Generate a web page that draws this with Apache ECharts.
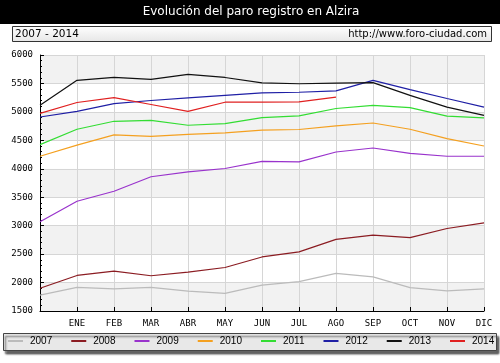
<!DOCTYPE html>
<html><head><meta charset="utf-8">
<script src="https://cdn.jsdelivr.net/npm/echarts@6/dist/echarts.min.js"></script>
<style>html,body{margin:0;padding:0;background:#fff}#c{width:500px;height:363px}</style>
</head><body><div id="c"></div>
<script>
const categories = ['', 'ENE', 'FEB', 'MAR', 'ABR', 'MAY', 'JUN', 'JUL', 'AGO', 'SEP', 'OCT', 'NOV', 'DIC'];
const years = ['2007', '2008', '2009', '2010', '2011', '2012', '2013', '2014'];
const y2007 = [1780, 1915, 1890, 1915, 1850, 1810, 1955, 2015, 2160, 2100, 1910, 1855, 1890];
const y2008 = [1900, 2125, 2200, 2120, 2185, 2265, 2450, 2540, 2760, 2835, 2790, 2950, 3050];
const y2009 = [3070, 3430, 3605, 3860, 3945, 4005, 4130, 4120, 4295, 4365, 4270, 4220, 4220];
const y2010 = [4220, 4415, 4595, 4570, 4605, 4630, 4680, 4690, 4755, 4805, 4695, 4530, 4400];
const y2011 = [4425, 4695, 4835, 4850, 4765, 4795, 4900, 4930, 5060, 5115, 5075, 4925, 4895];
const y2012 = [4910, 5010, 5145, 5200, 5245, 5290, 5335, 5345, 5370, 5555, 5390, 5235, 5085];
const y2013 = [5115, 5555, 5605, 5570, 5660, 5605, 5510, 5495, 5505, 5515, 5290, 5085, 4940];
const y2014 = [4975, 5165, 5250, 5130, 5010, 5170, 5170, 5175, 5260];
const yTicks = [1500, 2000, 2500, 3000, 3500, 4000, 4500, 5000, 5500, 6000];
const titleText = 'Evolución del paro registro en Alzira';
const periodText = '2007 - 2014';
const urlText = 'http://www.foro-ciudad.com';

const seriesData = [y2007, y2008, y2009, y2010, y2011, y2012, y2013, y2014];
const colors = ['#bbbbbb', '#8b1c22', '#9933cc', '#f4a020', '#33dd33', '#1f1fa5', '#111111', '#e02020'];

const chart = echarts.init(document.getElementById('c'), null, {renderer: 'canvas'});
chart.setOption({
  animation: false,
  color: colors,
  graphic: [
    {type: 'rect', shape: {x: 0, y: 0, width: 500, height: 24}, style: {fill: '#000'}, z: 0},
    {type: 'text', x: 251, y: 12, style: {text: titleText, fill: '#fff', font: '12px "DejaVu Sans"', textAlign: 'center', textVerticalAlign: 'middle'}, z: 1},
    {type: 'rect', shape: {x: 12.5, y: 26.5, width: 479, height: 15},
      style: {fill: new echarts.graphic.LinearGradient(0, 0, 0, 1, [{offset: 0, color: '#ffffff'}, {offset: 1, color: '#e6e6e6'}]), stroke: '#333', lineWidth: 1}, z: 0},
    {type: 'text', x: 15, y: 34, style: {text: periodText, fill: '#000', font: '10.5px "DejaVu Sans"', textVerticalAlign: 'middle'}, z: 1},
    {type: 'text', x: 487, y: 34, style: {text: urlText, fill: '#000', font: '10px "DejaVu Sans"', textAlign: 'right', textVerticalAlign: 'middle'}, z: 1},
    {type: 'rect', shape: {x: 3.5, y: 333.5, width: 493, height: 17},
      style: {fill: '#e8e8e8', stroke: '#444', lineWidth: 1, shadowBlur: 2, shadowOffsetX: 2, shadowOffsetY: 3, shadowColor: 'rgba(0,0,0,0.6)'}, z: 0}
  ],
  legend: {
    left: 8, right: 0, top: 336, padding: 0, itemWidth: 15, itemHeight: 2, itemGap: 19,
    icon: 'rect',
    textStyle: {fontFamily: 'Liberation Sans', fontSize: 10, color: '#000', padding: [0, 0, 0, 2]},
    data: years, z: 5
  },
  grid: {left: 40, right: 16, top: 55, bottom: 52},
  xAxis: {
    type: 'category', data: categories, boundaryGap: false,
    axisLine: {lineStyle: {color: '#000', width: 1}},
    axisTick: {inside: true, length: 4, lineStyle: {color: '#000'}, alignWithLabel: true},
    axisLabel: {interval: 0, fontFamily: 'DejaVu Sans Mono', fontSize: 9, color: '#000', margin: 8},
    splitLine: {show: true, lineStyle: {color: '#d6d6d6'}}
  },
  yAxis: {
    type: 'value', min: yTicks[0], max: yTicks[yTicks.length - 1], interval: 500,
    axisLine: {show: true, lineStyle: {color: '#000', width: 1}},
    axisTick: {show: true, inside: true, length: 4, lineStyle: {color: '#000'}},
    minorTick: {show: true, splitNumber: 5, length: 2, lineStyle: {color: '#000'}},
    axisLabel: {fontFamily: 'DejaVu Sans Mono', fontSize: 9, color: '#000', margin: 7, formatter: v => String(v)},
    splitLine: {show: true, lineStyle: {color: '#d6d6d6'}},
    splitArea: {show: true, areaStyle: {color: ['#f2f2f2', '#ffffff']}}
  },
  series: years.map((y, i) => ({
    name: y, type: 'line', data: seriesData[i], showSymbol: false, symbol: 'none',
    lineStyle: {width: 1.2, color: colors[i]}, itemStyle: {color: colors[i]}, connectNulls: false
  }))
});
</script></body></html>
